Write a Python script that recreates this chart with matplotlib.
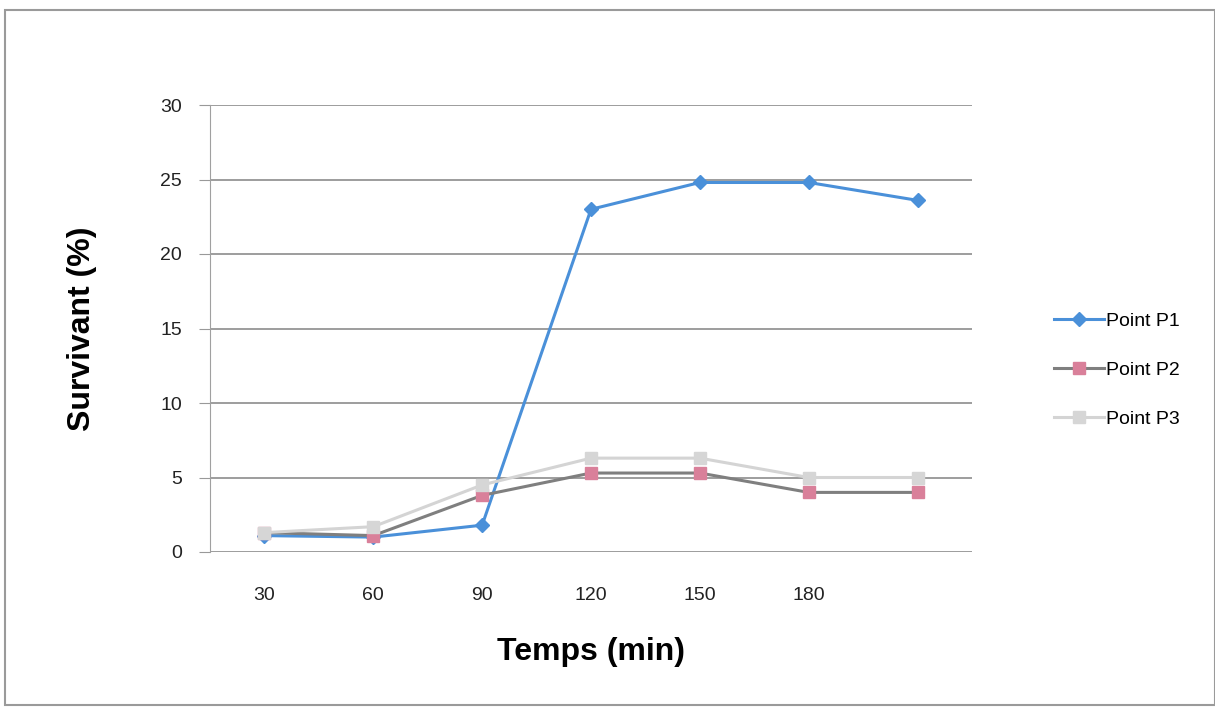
import numpy as np
import matplotlib.pyplot as plt
from matplotlib.patches import Rectangle

# Données
temps = ['30', '60', '90', '120', '150', '180', '']
p1 = [1.1, 1.0, 1.8, 23.0, 24.8, 24.8, 23.6]
p2 = [1.3, 1.1, 3.8, 5.3, 5.3, 4.0, 4.0]
p3 = [1.3, 1.7, 4.5, 6.3, 6.3, 5.0, 5.0]

plt.rcParams['font.family'] = ['Liberation Sans', 'DejaVu Sans']

fig = plt.figure(figsize=(12.15, 7.23), dpi=100)
ax = fig.add_axes([210/1215, 1 - 552/723, 762/1215, 447/723])

x = np.arange(len(temps))
ax.plot(x, p1, color='#4a90d9', lw=2.2, marker='D', ms=7, mfc='#4a90d9', mec='#4a90d9', label='Point P1')
ax.plot(x, p2, color='#7f7f7f', lw=2.2, marker='s', ms=8, mfc='#d9809a', mec='#d9809a', label='Point P2')
ax.plot(x, p3, color='#d4d4d4', lw=2.2, marker='s', ms=8, mfc='#d6d6d6', mec='#d6d6d6', label='Point P3')

ax.set_xlim(-0.5, len(temps) - 0.5)
ax.set_ylim(0, 30)
ax.set_xticks(x)
ax.set_xticklabels(temps, fontsize=14, color='#222222')
ax.set_yticks(range(0, 31, 5))
ax.tick_params(axis='y', labelsize=14, colors='#222222', length=8, color='#999999', pad=12)
ax.tick_params(axis='x', length=0, pad=25)
ax.yaxis.grid(True, color='#8c8c8c', lw=1.2)
ax.set_axisbelow(True)
for s in ['top', 'right', 'bottom']:
    ax.spines[s].set_visible(False)
ax.spines['left'].set_color('#a0a0a0')

ax.set_xlabel('Temps (min)', fontsize=23, fontweight='bold', labelpad=24)
ax.set_ylabel('Survivant (%)', fontsize=23, fontweight='bold', labelpad=46)

fig.legend(loc='center left', bbox_to_anchor=(1036/1215, 1 - 370/723), frameon=False,
           fontsize=14, handlelength=2.6, handletextpad=0.1, labelspacing=1.6)

fig.patches.append(Rectangle((5/1215, 1 - 705/723), 1210/1215, 695/723, transform=fig.transFigure,
                             fill=False, edgecolor='#9a9a9a', lw=1.5))

fig.savefig('out.png', dpi=100)
